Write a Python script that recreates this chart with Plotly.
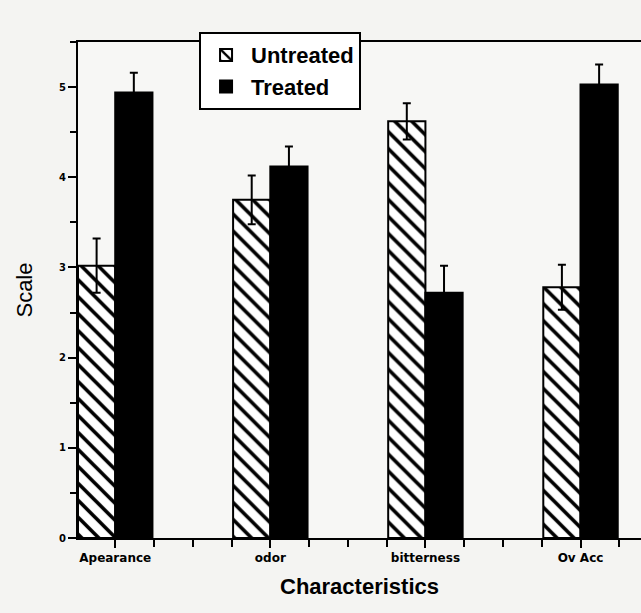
import plotly.graph_objects as go

categories = ["Apearance", "odor", "bitterness", "Ov Acc"]
untreated = [3.02, 3.75, 4.62, 2.78]
untreated_err = [0.3, 0.27, 0.2, 0.25]
treated = [4.94, 4.12, 2.72, 5.03]
treated_err = [0.22, 0.22, 0.3, 0.22]
y_ticks = [0, 1, 2, 3, 4, 5]

xpos = list(range(len(categories)))
FONT = "Liberation Sans, Arial, sans-serif"
TICKFONT = "DejaVu Sans, sans-serif"

fig = go.Figure()
fig.add_trace(go.Bar(
    x=xpos, y=untreated, name="Untreated",
    marker=dict(color="white", line=dict(color="black", width=2),
                pattern=dict(shape="\\", fgcolor="black", fgopacity=1, bgcolor="white",
                             size=12, solidity=0.3)),
    error_y=dict(type="data", array=untreated_err, color="black", thickness=2, width=4),
))
fig.add_trace(go.Bar(
    x=xpos, y=treated, name="Treated",
    marker=dict(color="black", line=dict(color="black", width=2)),
    error_y=dict(type="data", array=treated_err, color="black", thickness=2, width=4),
))

fig.update_layout(
    width=641, height=613,
    margin=dict(l=78, r=0, t=42, b=75),
    paper_bgcolor="#f4f4f2", plot_bgcolor="#f7f7f5",
    barmode="group", bargap=0.52, bargroupgap=0.0,
    font=dict(family=FONT, color="black"),
    showlegend=True,
    legend=dict(x=0.215, y=1.02, xanchor="left", yanchor="top",
                bgcolor="white", bordercolor="black", borderwidth=2,
                font=dict(size=22, family=FONT, color="black", weight="bold"),
                itemsizing="constant", tracegroupgap=2, itemwidth=40),
    xaxis=dict(
        range=[-0.24, 3.39], tickmode="array", tickvals=xpos, ticktext=categories,
        showline=True, linecolor="black", linewidth=2, mirror=True,
        ticks="outside", ticklen=8, tickwidth=2, tickcolor="black",
        minor=dict(dtick=0.25, ticks="outside", ticklen=7, tickwidth=2, tickcolor="black"),
        tickfont=dict(size=12, family=TICKFONT, color="black", weight="bold"),
        showgrid=False, zeroline=False,
        title=dict(text="Characteristics", font=dict(size=22, family=FONT, weight="bold"), standoff=14),
    ),
    yaxis=dict(
        range=[0, 5.5], tickmode="array", tickvals=y_ticks,
        showline=True, linecolor="black", linewidth=2,
        ticks="outside", ticklen=8, tickwidth=2, tickcolor="black",
        minor=dict(dtick=0.5, ticks="outside", ticklen=6, tickwidth=2, tickcolor="black"),
        tickfont=dict(size=10, family=TICKFONT, color="black", weight="bold"),
        showgrid=False, zeroline=False,
        title=dict(text="Scale", font=dict(size=22, family=FONT), standoff=20),
    ),
)

fig.write_html("out.html")
